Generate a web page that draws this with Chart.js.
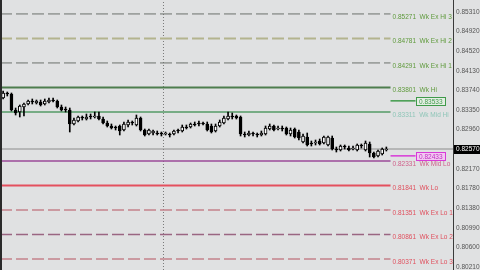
<!DOCTYPE html>
<html>
<head>
<meta charset="utf-8">
<script src="https://cdn.jsdelivr.net/npm/chart.js@4.4.1/dist/chart.umd.min.js"></script>
<style>
  html, body { margin: 0; padding: 0; background: #e0e1e2; overflow: hidden; }
  canvas { display: block; }
</style>
</head>
<body>
<canvas id="chart" width="480" height="270"></canvas>
<script>
// candles, oldest first
const candleOpen = [
  0.8359, 0.8369, 0.8367, 0.8335, 0.8331, 0.8341, 0.8347, 0.8351, 0.8349, 0.8351,
  0.8347, 0.8351, 0.8355, 0.8353, 0.8341, 0.8337, 0.8335, 0.8307, 0.8313, 0.8319,
  0.8317, 0.8321, 0.8321, 0.8323, 0.8317, 0.8309, 0.8303, 0.8299, 0.8303, 0.8295,
  0.8305, 0.8309, 0.8305, 0.8319, 0.8295, 0.8287, 0.8289, 0.8289, 0.8287, 0.8287,
  0.8287, 0.8287, 0.8293, 0.8293, 0.8301, 0.8301, 0.8307, 0.8307, 0.8307, 0.8307,
  0.8303, 0.8293, 0.8303, 0.8309, 0.8317, 0.8323, 0.8323, 0.8321, 0.8287, 0.8285,
  0.8287, 0.8287, 0.8285, 0.8287, 0.8297, 0.8303, 0.8297, 0.8299, 0.8299, 0.8287,
  0.8297, 0.8291, 0.8271, 0.8281, 0.8269, 0.8269, 0.8273, 0.8269, 0.8265, 0.8279,
  0.8257, 0.8255, 0.8261, 0.8259, 0.8257, 0.8255, 0.8263, 0.8255, 0.8267, 0.8249,
  0.8243, 0.8247, 0.8255
];
const candleHigh = [
  0.8373, 0.8371, 0.8369, 0.8339, 0.8345, 0.8349, 0.8355, 0.8357, 0.8355, 0.8355,
  0.8357, 0.8359, 0.8359, 0.8355, 0.8345, 0.8341, 0.8339, 0.8319, 0.8323, 0.8323,
  0.8327, 0.8327, 0.8331, 0.8331, 0.8321, 0.8313, 0.8307, 0.8303, 0.8305, 0.8311,
  0.8315, 0.8313, 0.8325, 0.8321, 0.8297, 0.8297, 0.8295, 0.8293, 0.8291, 0.8291,
  0.8289, 0.8295, 0.8297, 0.8305, 0.8305, 0.8309, 0.8311, 0.8313, 0.8311, 0.8311,
  0.8307, 0.8307, 0.8315, 0.8323, 0.8331, 0.8329, 0.8325, 0.8323, 0.8291, 0.8293,
  0.8291, 0.8289, 0.8293, 0.8303, 0.8307, 0.8305, 0.8303, 0.8303, 0.8301, 0.8299,
  0.8299, 0.8295, 0.8287, 0.8289, 0.8273, 0.8275, 0.8277, 0.8283, 0.8283, 0.8283,
  0.8261, 0.8265, 0.8265, 0.8263, 0.8263, 0.8267, 0.8267, 0.8273, 0.8271, 0.8251,
  0.8255, 0.8259, 0.8261
];
const candleLow = [
  0.8357, 0.8363, 0.8333, 0.8325, 0.8321, 0.8323, 0.8345, 0.8347, 0.8347, 0.8343,
  0.8345, 0.8349, 0.8351, 0.8339, 0.8333, 0.8331, 0.8291, 0.8305, 0.8311, 0.8315,
  0.8315, 0.8317, 0.8319, 0.8315, 0.8307, 0.8301, 0.8297, 0.8295, 0.8285, 0.8293,
  0.8301, 0.8305, 0.8303, 0.8293, 0.8283, 0.8285, 0.8285, 0.8285, 0.8283, 0.8285,
  0.8281, 0.8285, 0.8289, 0.8291, 0.8297, 0.8299, 0.8303, 0.8303, 0.8305, 0.8293,
  0.8289, 0.8291, 0.8301, 0.8307, 0.8315, 0.8317, 0.8317, 0.8283, 0.8281, 0.8283,
  0.8283, 0.8281, 0.8283, 0.8285, 0.8295, 0.8293, 0.8295, 0.8293, 0.8285, 0.8283,
  0.8279, 0.8275, 0.8269, 0.8263, 0.8263, 0.8265, 0.8265, 0.8267, 0.8263, 0.8255,
  0.8251, 0.8253, 0.8257, 0.8253, 0.8255, 0.8253, 0.8259, 0.8253, 0.8241, 0.8239,
  0.8241, 0.8245, 0.8253
];
const candleClose = [
  0.8369, 0.8367, 0.8335, 0.8329, 0.8343, 0.8347, 0.8353, 0.8351, 0.8353, 0.8345,
  0.8353, 0.8355, 0.8353, 0.8341, 0.8335, 0.8335, 0.8307, 0.8315, 0.8321, 0.8319,
  0.8321, 0.8321, 0.8323, 0.8317, 0.8309, 0.8303, 0.8299, 0.8299, 0.8293, 0.8307,
  0.8311, 0.8309, 0.8319, 0.8295, 0.8285, 0.8295, 0.8293, 0.8287, 0.8287, 0.8289,
  0.8285, 0.8293, 0.8293, 0.8301, 0.8299, 0.8307, 0.8305, 0.8307, 0.8307, 0.8295,
  0.8291, 0.8303, 0.8311, 0.8319, 0.8323, 0.8321, 0.8319, 0.8287, 0.8285, 0.8289,
  0.8287, 0.8285, 0.8289, 0.8299, 0.8303, 0.8295, 0.8299, 0.8297, 0.8287, 0.8295,
  0.8281, 0.8279, 0.8283, 0.8265, 0.8267, 0.8271, 0.8267, 0.8281, 0.8281, 0.8257,
  0.8255, 0.8263, 0.8261, 0.8255, 0.8259, 0.8265, 0.8263, 0.8269, 0.8249, 0.8241,
  0.8253, 0.8257, 0.8257
];

// weekly pivot levels
const levelValues = [0.85271, 0.84781, 0.84291, 0.83801, 0.83311, 0.82331, 0.81841, 0.81351, 0.80861, 0.80371];
const levelNames = ['Wk Ex Hi 3', 'Wk Ex Hi 2', 'Wk Ex Hi 1', 'Wk Hi', 'Wk Mid Hi', 'Wk Mid Lo', 'Wk Lo', 'Wk Ex Lo 1', 'Wk Ex Lo 2', 'Wk Ex Lo 3'];

// short price markers at the right
const markerValues = [0.83533, 0.82433];

// right axis
const yTicks = [0.8531, 0.8492, 0.8452, 0.8413, 0.8374, 0.8335, 0.8296, 0.8217, 0.8178, 0.8138, 0.8099, 0.8060, 0.8021];
const weekSeparator = 38.5;

const yMin = 0.8015, yMax = 0.8555;
const xMin = -0.75, xMax = 108;
const lineEnd = 93, markerEnd = 99;

const levelStyle = [
  { line: '#6c716c', text: '#5f9a3c', width: 1, dash: [12, 4] },
  { line: '#b3b48e', text: '#5f9a3c', width: 2, dash: [12, 4] },
  { line: '#6c716c', text: '#5f9a3c', width: 1, dash: [12, 4] },
  { line: '#4d7d4d', text: '#5f9a3c', width: 2, dash: [] },
  { line: '#559a66', text: '#8fc6b8', width: 1.5, dash: [] },
  { line: '#9b4a98', text: '#d0608a', width: 1.5, dash: [] },
  { line: '#e4505e', text: '#e0505e', width: 2, dash: [] },
  { line: '#c4838c', text: '#e0505e', width: 1.5, dash: [12, 4] },
  { line: '#9a6682', text: '#e0505e', width: 1.5, dash: [12, 4] },
  { line: '#c4838c', text: '#e0505e', width: 1.5, dash: [12, 4] }
];
const markerStyle = [
  { line: '#3f9a4a', fill: '#e4eee4', text: '#3f9a4a' },
  { line: '#d83ad8', fill: '#f2c8f2', text: '#c030c0' }
];

const font = '"Liberation Sans", Arial, sans-serif';
const idx = candleOpen.map((_, i) => i);
const lastClose = candleClose[candleClose.length - 1];

const datasets = [
  {
    type: 'bar',
    data: idx.map(i => ({ x: i, y: [candleOpen[i], candleClose[i]] })),
    backgroundColor: idx.map(i => candleClose[i] > candleOpen[i] ? '#ffffff' : '#000000'),
    borderColor: '#000000',
    borderWidth: 1,
    borderSkipped: false,
    barThickness: 3,
    minBarLength: 1,
    grouped: false,
    order: 0
  },
  {
    type: 'bar',
    data: idx.map(i => ({ x: i, y: [candleLow[i], candleHigh[i]] })),
    backgroundColor: '#000000',
    barThickness: 1,
    grouped: false,
    order: 1
  },
  {
    type: 'line',
    data: [{ x: xMin, y: lastClose }, { x: xMax, y: lastClose }],
    borderColor: '#8c8c8c',
    borderWidth: 1,
    pointRadius: 0,
    order: 3
  },
  {
    type: 'line',
    data: [{ x: weekSeparator, y: yMin }, { x: weekSeparator, y: yMax }],
    borderColor: '#7a7a7a',
    borderWidth: 1,
    borderDash: [1, 2],
    pointRadius: 0,
    order: 4
  }
];

levelValues.forEach((v, i) => {
  datasets.push({
    type: 'line',
    data: [{ x: xMin, y: v }, { x: lineEnd, y: v }],
    borderColor: levelStyle[i].line,
    borderWidth: levelStyle[i].width,
    borderDash: levelStyle[i].dash,
    pointRadius: 0,
    order: 2
  });
});

markerValues.forEach((v, i) => {
  datasets.push({
    type: 'line',
    data: [{ x: lineEnd, y: v }, { x: markerEnd, y: v }],
    borderColor: markerStyle[i].line,
    borderWidth: 1.5,
    pointRadius: 0,
    order: 2
  });
});

const decor = {
  id: 'decor',
  beforeDraw(chart) {
    const { ctx, width, height } = chart;
    ctx.save();
    ctx.fillStyle = '#e0e1e2';
    ctx.fillRect(0, 0, width, height);
    ctx.restore();
  },
  afterDraw(chart) {
    const { ctx, chartArea, scales: { x, y } } = chart;
    ctx.save();
    ctx.font = `6.5px ${font}`;
    ctx.textBaseline = 'middle';
    ctx.textAlign = 'left';

    levelValues.forEach((v, i) => {
      ctx.fillStyle = levelStyle[i].text;
      ctx.fillText(`${v.toFixed(5)}  ${levelNames[i]}`, x.getPixelForValue(lineEnd) + 2, y.getPixelForValue(v) + 3);
    });

    markerValues.forEach((v, i) => {
      const px = Math.round(x.getPixelForValue(markerEnd));
      const py = Math.round(y.getPixelForValue(v));
      const s = markerStyle[i];
      ctx.fillStyle = s.fill;
      ctx.fillRect(px, py - 4, 30, 9);
      ctx.strokeStyle = s.line;
      ctx.lineWidth = 1;
      ctx.strokeRect(px + 0.5, py - 3.5, 29, 8);
      ctx.fillStyle = s.text;
      ctx.fillText(v.toFixed(5), px + 3, py + 1);
    });

    // current price tag on the axis
    const py = Math.round(y.getPixelForValue(lastClose));
    ctx.fillStyle = '#000000';
    ctx.fillRect(chartArea.right + 1, py - 4, 27, 9);
    ctx.fillStyle = '#ffffff';
    ctx.fillText(lastClose.toFixed(5), chartArea.right + 3, py + 0.5);

    // left frame edge
    ctx.fillStyle = '#2a2a2a';
    ctx.fillRect(0, 0, 2, chart.height);
    ctx.restore();
  }
};

new Chart(document.getElementById('chart'), {
  type: 'bar',
  data: { datasets },
  options: {
    responsive: false,
    devicePixelRatio: 1,
    animation: false,
    layout: { padding: 0 },
    plugins: { legend: { display: false }, tooltip: { enabled: false } },
    scales: {
      x: {
        type: 'linear',
        min: xMin,
        max: xMax,
        offset: false,
        display: false
      },
      y: {
        type: 'linear',
        position: 'right',
        min: yMin,
        max: yMax,
        grid: { display: false, drawTicks: false },
        border: { display: true, color: '#3a3a3a', width: 1 },
        afterBuildTicks(scale) {
          scale.ticks = yTicks.map(v => ({ value: v }));
        },
        afterFit(scale) {
          scale.width = 27;
          scale.paddingTop = 0;
          scale.paddingBottom = 0;
        },
        ticks: {
          autoSkip: false,
          padding: 3,
          color: '#555555',
          font: { family: font, size: 6.5 },
          callback: v => Number(v).toFixed(5)
        }
      }
    }
  },
  plugins: [decor]
});
</script>
</body>
</html>
